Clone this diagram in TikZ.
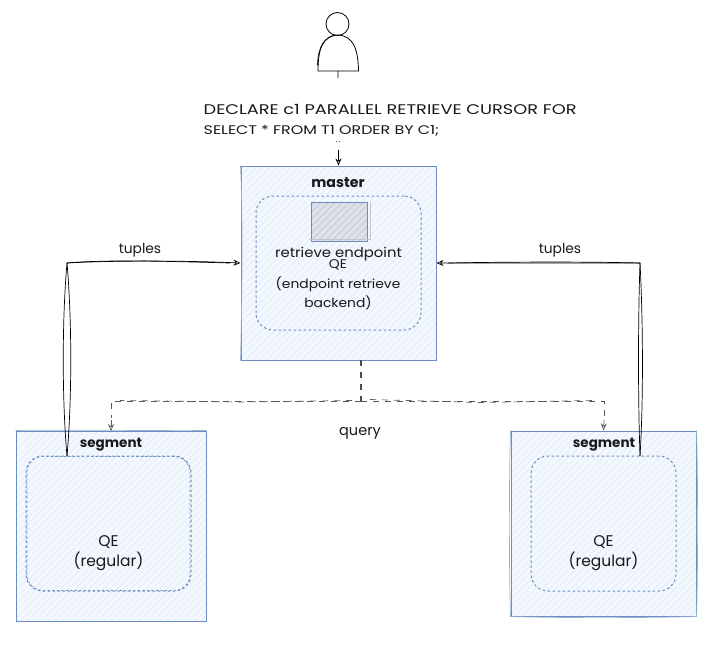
\documentclass[tikz,border=0pt]{standalone}
\usepackage{fontspec}
\setmainfont{Poppins}
\newfontfamily\widefont[FakeStretch=1.27]{Poppins}
\newfontfamily\midfont[FakeStretch=1.1]{Poppins}
\usetikzlibrary{arrows.meta,calc}
\definecolor{boxline}{HTML}{6C8EBF}
\definecolor{boxfill}{HTML}{F3F7FE}
\definecolor{hatch}{HTML}{E2ECFC}
\definecolor{iconfill}{HTML}{DDE2EA}
\definecolor{iconhatch}{HTML}{BFC6D2}
\newcommand{\hatchlines}[1]{%
  \foreach \k in {-500,-493,...,500}{\draw[#1,solid,line width=.7pt] (\k,0) -- ++(300,-300) (\k,0) -- ++(-300,300);}}
\tikzset{
  every node/.style={font=\fontsize{13.8}{20}\selectfont,text=black!90,align=center},
  outerbox/.style={draw=boxline,line width=1pt,fill=boxfill,inner sep=0pt},
  sketchline/.style={draw=boxline!70,line width=.7pt},
  arrowline/.style={draw=black,line width=.7pt,-{Stealth[open,length=7pt,width=6pt]}},
  queryline/.style={draw=black!65,line width=1pt,dash pattern=on 6pt off 6pt},
  queryhead/.style={draw=black!65,line width=.7pt,-{Stealth[open,length=7pt,width=6pt]}},
  boxlabel/.style={font=\fontsize{13.5}{16}\selectfont\bfseries},
  hatchfill/.style={path picture={\hatchlines{hatch}}},
}
\begin{document}
\begin{tikzpicture}[x=1pt,y=-1pt]
\useasboundingbox (0,0) rectangle (722,651);
% outer boxes
\node[outerbox,hatchfill,minimum width=195pt,minimum height=194pt] (master) at (338.5,263) {};
\node[outerbox,hatchfill,minimum width=190pt,minimum height=190pt] (segl) at (111,526) {};
\node[outerbox,hatchfill,minimum width=185pt,minimum height=185pt] (segr) at (603.5,523.5) {};
\draw[sketchline] (master.north west) .. controls (243,220) and (242,300) .. (master.south west);
\draw[sketchline] (segr.north west) .. controls (509,480) and (509,570) .. (segr.south west) .. controls (560,618) and (640,618) .. (segr.south east) .. controls (698,570) and (698,480) .. (segr.north east);
\draw[sketchline] (segl.north west) .. controls (60,429.5) and (160,431) .. (segl.north east);
% inner boxes
\tikzset{innerbox/.style={draw=boxline,line width=1pt,dash pattern=on 2.5pt off 2.5pt,fill=boxfill,rounded corners=17pt,inner sep=0pt,hatchfill},
  innerextra/.style={draw=boxline,line width=.7pt,dash pattern=on 2pt off 2.5pt,rounded corners=16pt,inner sep=0pt}}
\node[innerbox,minimum width=165pt,minimum height=134pt] (qem) at (338.5,263) {};
\node[innerbox,minimum width=165pt,minimum height=135pt] (qel) at (108.5,523.5) {};
\node[innerbox,minimum width=145pt,minimum height=135pt] (qer) at (603.5,523.5) {};
\node[innerextra,minimum width=163pt,minimum height=134pt] (qelx) at (108.5,523.5) {};
% icon
\node[draw=boxline,line width=1pt,fill=iconfill,minimum width=56pt,minimum height=39pt,inner sep=0pt,
  path picture={\hatchlines{iconhatch}}] (icon) at (339.5,222) {};
\draw[iconhatch,line width=1pt] ([xshift=2pt]icon.north east) -- ([shift={(2pt,3pt)}]icon.south east) -- ([shift={(-2pt,3pt)}]icon.south west);
% person
\node[draw=black,line width=.8pt,circle,minimum size=23pt,inner sep=0pt] (head) at (337.5,24) {};
\coordinate (personb) at (338,71);
\draw[black,line width=.8pt] (318,71) .. controls (318,48) and (323,36) .. (338,35) .. controls (353,36) and (358,48) .. (358.5,71) -- cycle;
\draw[black,line width=.7pt] (317.5,65) .. controls (318,46) and (325,37) .. (335,35);
% connectors
\coordinate (mnorth) at (338.5,165.5);
\draw[arrowline] (personb) -- (mnorth);
\node[fill=white,inner sep=0pt,minimum width=380pt,minimum height=72pt] (sqlbg) at (390,114) {};
\fill[black!80] (336.6,141.5) circle (.45pt) (339.6,141.5) circle (.45pt);
\node[anchor=west,align=left,font=\widefont\fontsize{14}{20}\selectfont,inner sep=0pt] (sql) at (203.5,120.5) {DECLARE c1 PARALLEL RETRIEVE CURSOR FOR\\\fontsize{12.5}{20}\selectfont SELECT * FROM T1 ORDER BY C1;};
% tuples
\coordinate (lc) at (67,263);
\coordinate (rc) at (640,263);
\coordinate (ls) at (67,456);
\coordinate (rs) at (640,456);
\draw[arrowline] (ls) .. controls (62,400) and (62,320) .. (lc) .. controls (100,261) and (170,260) .. (master.west);
\draw[black,line width=.7pt] (ls) .. controls (72,400) and (72,320) .. (lc) .. controls (110,259) and (190,262) .. (230,263);
\draw[arrowline] (rs) .. controls (638,400) and (638,320) .. (rc) .. controls (580,263) and (500,263) .. (master.east);
\draw[black,line width=.7pt] (rs) .. controls (643.5,400) and (643,320) .. (rc) .. controls (580,261.5) and (500,262) .. (448,263);
\node[fill=white,inner sep=1pt] (tl) at (140,250) {tuples};
\node[fill=white,inner sep=1pt] (tr) at (560,250) {tuples};
% query
\coordinate (qb) at (361,401);
\coordinate (qlc) at (111,401);
\coordinate (qrc) at (604,401);
\draw[queryline,line width=1.3pt,draw=black!70] (361,360) -- (qb);
\draw[queryline] (qb) -- (qlc) -- (111,418);
\draw[queryline] (qb) -- (qrc) -- (604,418);
\draw[queryline,line width=.7pt] (352,400.5) -- (240,402) -- (120,400.5);
\draw[queryline,line width=.7pt] (370,399.5) -- (480,402.5) -- (595,400.5);
\draw[queryhead] (111,420) -- (111,431);
\draw[queryhead] (604,420) -- (segr.north);
\node[font=\fontsize{14.5}{20}\selectfont] (q) at (360,433) {query};
% text
\node[boxlabel,font=\fontsize{14.2}{16}\selectfont\bfseries] (ml) at (338,183) {master};
\node[boxlabel] (sl) at (111,445) {segment};
\node[boxlabel] (sr) at (604,445) {segment};
\node[font=\midfont\fontsize{13.5}{20}\selectfont] (re) at (338.5,254) {retrieve endpoint};
\node[font=\midfont\fontsize{12.6}{19.5}\selectfont] (qt) at (338,285) {QE\\(endpoint retrieve\\backend)};
\node[font=\fontsize{15.5}{20}\selectfont] (ql) at (108.5,553) {QE\\(regular)};
\node[font=\fontsize{15.5}{20}\selectfont] (qr) at (603.5,553) {QE\\(regular)};
\end{tikzpicture}
\end{document}
